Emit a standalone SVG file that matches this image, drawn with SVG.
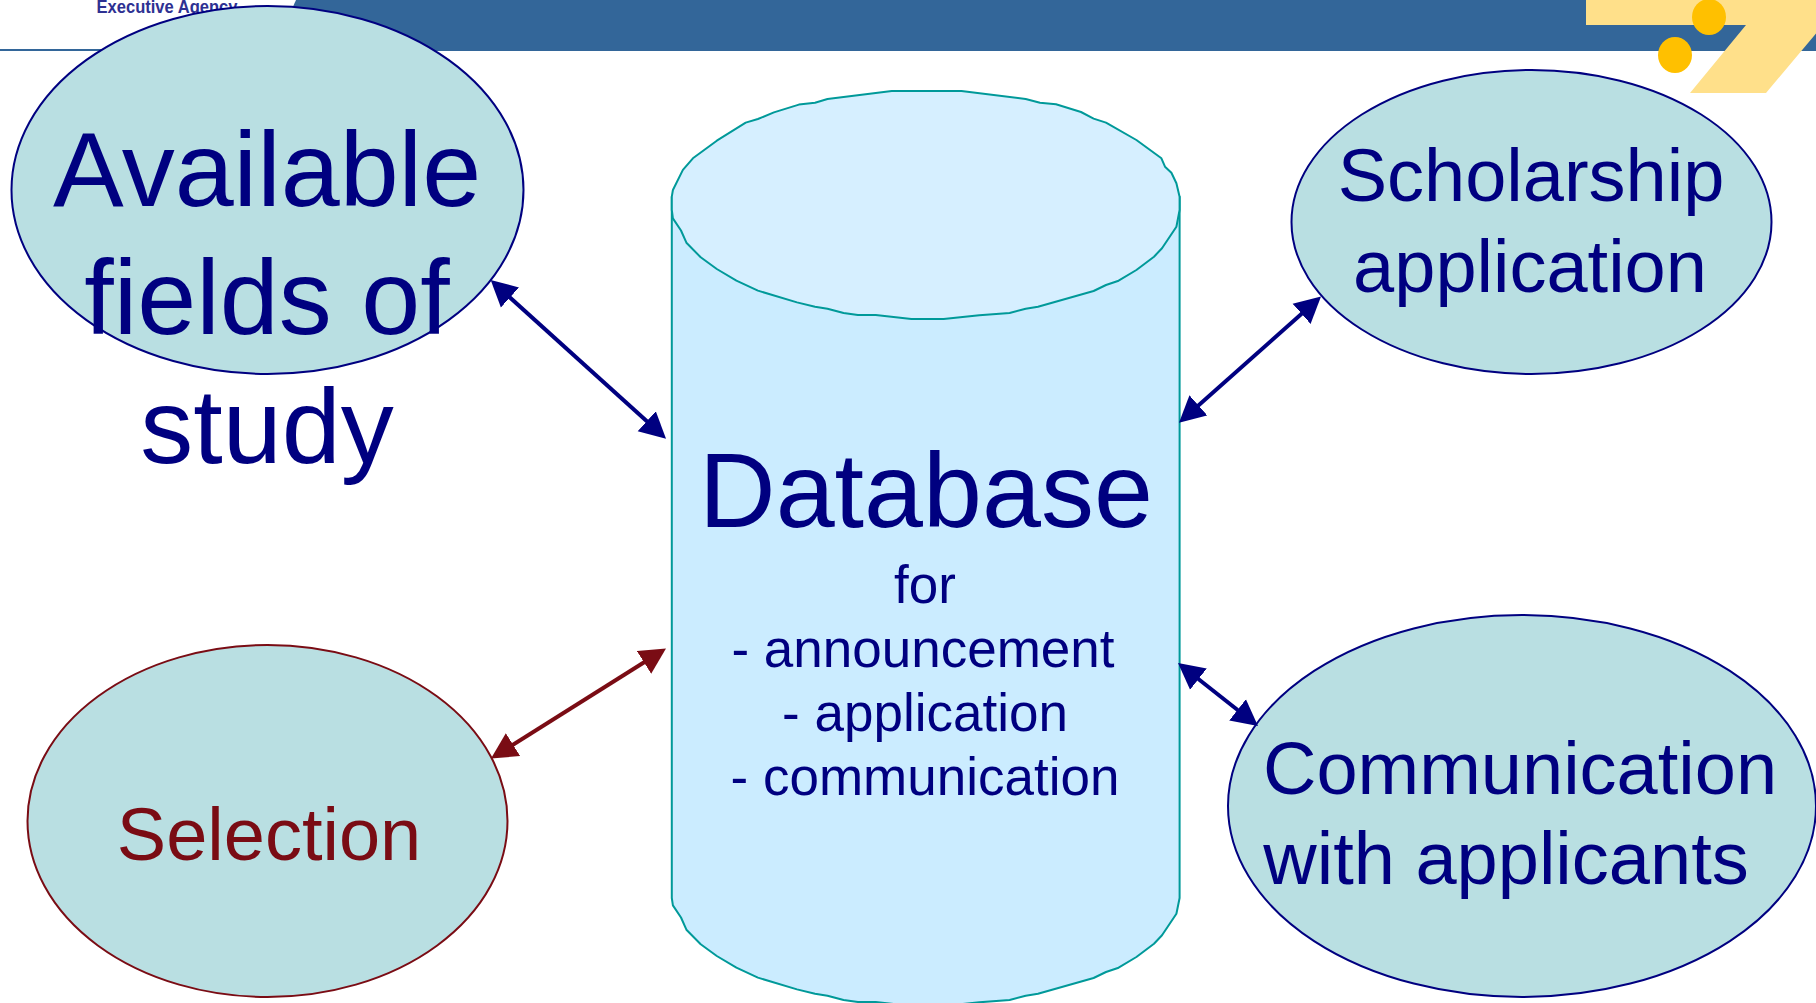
<svg xmlns="http://www.w3.org/2000/svg" width="1816" height="1003" viewBox="0 0 1816 1003">
<style>
text{font-family:"Liberation Sans",Arial,sans-serif;fill:#000080;text-anchor:middle}
.node{fill:#b9dfe2;stroke:#000080;stroke-width:2}
.conn{stroke:#000080;stroke-width:4;fill:none;marker-start:url(#ah);marker-end:url(#ah)}
.big{font-size:106px}.mid{font-size:74px}.small{font-size:53px}
.cyl{stroke:#009999;stroke-width:2;stroke-linejoin:round}
</style>
<defs>
<marker id="ah" viewBox="0 -14 26 28" refX="11" refY="0" markerWidth="26" markerHeight="28" markerUnits="userSpaceOnUse" orient="auto-start-reverse"><path d="M0,-13.5L26,0L0,13.5Z" fill="#000080"/></marker>
<marker id="ahr" viewBox="0 -14 26 28" refX="11" refY="0" markerWidth="26" markerHeight="28" markerUnits="userSpaceOnUse" orient="auto-start-reverse"><path d="M0,-13.5L26,0L0,13.5Z" fill="#7a0c14"/></marker>
</defs>
<rect width="1816" height="1003" fill="#fff"/>
<g id="banner">
<text x="167" y="13" textLength="141" lengthAdjust="spacingAndGlyphs" style="font-size:17.5px;font-weight:bold;fill:#2e3192">Executive Agency</text>
<rect x="90" y="14" width="170" height="8" fill="#fff"/>
<path d="M0,49H340V51H0Z" fill="#336699"/>
<path d="M296,0H1816V51H273Z" fill="#336699"/>
<path d="M1586,0H1816V33.5L1766,93H1690L1746,25H1586Z" fill="#ffe08a"/>
<ellipse cx="1709" cy="17" rx="17" ry="18" fill="#ffc000"/>
<ellipse cx="1675" cy="55" rx="17" ry="18" fill="#ffc000"/>
</g>
<g id="database">
<path class="cyl" fill="#cbecff" d="M671.8,196.7V898L672.9,905.4L681,917.5L686.4,929.7L700.7,944.3L716.8,956L736.4,967.7L757.9,977.6L797,989.4L815,993.7L827.5,995.7L843.6,1000L857.9,1002H875.7L911.4,1006H943.6L979.3,1002.3L1009.6,1000L1025.7,995.7L1038,993.7L1093.6,978L1106,972L1118.6,967.7L1136.4,957L1154,943.7L1162,935.3L1176.4,913.7L1179.6,898V196.7Z"/>
<path class="cyl" fill="#d6efff" d="M671.8,196.7L672.9,190L682.9,169.9L692.9,158.3L716.8,140.7L745.7,122.6L757.9,119L773.9,112.4L798.9,104.6L815,102.7L827.5,99L891.8,91H961.4L1025.7,99L1040,102.7L1056,104.3L1081,112L1093.6,118.6L1106,122.6L1136.4,140L1161.4,158.3L1165,166.7L1171.4,172.7L1176.4,183.3L1179.6,196.7V210L1176.4,226.7L1162,248.3L1154,256.7L1136.4,270L1118.6,280.7L1106,285L1093.6,291L1038,306.7L1025.7,308.7L1009.6,313L979.3,315.3L943.6,319H911.4L875.7,315H857.9L843.6,313L827.5,308.7L815,306.7L797,302.4L757.9,290.6L736.4,280.7L716.8,269L700.7,257.3L686.4,242.7L681,230.5L672.9,218.4L671.8,210Z"/>
<text class="big" x="926" y="527">Database</text>
<text class="small" x="925" y="603">for</text>
<text class="small" x="923" y="667">- announcement</text>
<text class="small" x="925" y="731">- application</text>
<text class="small" x="925" y="795">- communication</text>
</g>
<g id="available">
<ellipse class="node" cx="267.5" cy="190" rx="256" ry="184"/>
<text class="big" x="267" y="206">Available</text>
<text class="big" x="267" y="334">fields of</text>
<text class="big" x="267" y="463">study</text>
</g>
<g id="scholarship">
<ellipse class="node" cx="1531.5" cy="222" rx="240" ry="152"/>
<text class="mid" x="1531" y="201">Scholarship</text>
<text class="mid" x="1530" y="292">application</text>
</g>
<g id="selection">
<ellipse cx="267.5" cy="821" rx="240" ry="176" class="node" style="stroke:#7a0c14"/>
<text class="mid" x="269" y="860" style="fill:#7a0c14">Selection</text>
</g>
<g id="communication">
<ellipse class="node" cx="1522" cy="806" rx="294" ry="191"/>
<text class="mid" x="1520" y="794">Communication</text>
<text class="mid" x="1506" y="884">with applicants</text>
</g>
<g id="connectors">
<line class="conn" x1="501.8" y1="290.1" x2="654.9" y2="428.6"/>
<line class="conn" x1="1309.8" y1="306.5" x2="1190.2" y2="412.7"/>
<line class="conn" x1="653.3" y1="656.5" x2="503.7" y2="750.5" style="stroke:#7a0c14;marker-start:url(#ahr);marker-end:url(#ahr)"/>
<line class="conn" x1="1189.8" y1="672.3" x2="1246.2" y2="716.7"/>
</g>
</svg>
